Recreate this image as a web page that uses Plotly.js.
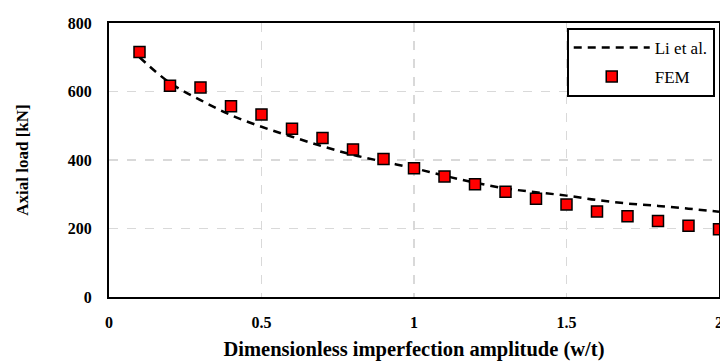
<!DOCTYPE html>
<html><head><meta charset="utf-8">
<script src="https://cdn.plot.ly/plotly-3.0.1.min.js"></script>
<style>html,body{margin:0;padding:0;background:#fff}#chart{width:720px;height:361px}</style>
</head><body><div id="chart"></div>
<script>
const xLi = [0.1,0.2,0.3,0.4,0.5,0.6,0.7,0.8,0.9,1.0,1.1,1.2,1.3,1.4,1.5,1.6,1.7,1.8,1.9,2.0];
const yLi = [700,625,575,531,497,468,440,415,395,376,354,334,317,306,296,283,273,266,258,249];
const xFem = [0.1,0.2,0.3,0.4,0.5,0.6,0.7,0.8,0.9,1.0,1.1,1.2,1.3,1.4,1.5,1.6,1.7,1.8,1.9,2.0];
const yFem = [715,617,612,557,533,491,464,431,403,376,352,329,307,287,270,250,236,222,208,198];
const xTicks = [0,0.5,1,1.5,2];
const xTickText = ['0','0.5','1','1.5','2'];
const yTicks = [0,200,400,600,800];

const font = 'Liberation Serif';
const traces = [
  {x:xLi, y:yLi, name:'Li et al.', legendgroup:'a', mode:'lines', line:{color:'#000', width:2.5, dash:'8px,6px', shape:'spline'}},
  {x:xFem, y:yFem, name:'FEM', legendgroup:'b', mode:'markers', marker:{symbol:'square', size:11, color:'#ff0000', line:{color:'#000', width:1.5}}}
];
const layout = {
  width:720, height:361,
  margin:{l:109, r:1, t:23, b:64},
  paper_bgcolor:'#fff', plot_bgcolor:'#fff',
  font:{family:font, color:'#000'},
  showlegend:true,
  legend:{x:0.993, xanchor:'right', y:0.982, yanchor:'top', bgcolor:'#fff', bordercolor:'#000', borderwidth:2,
    font:{family:font, size:17, color:'#000'}, itemwidth:76, tracegroupgap:4},
  xaxis:{range:[0,2], tickvals:xTicks, ticktext:xTickText, showline:true, linecolor:'#000', linewidth:2, mirror:true,
    showgrid:true, gridcolor:'#d9d9d9', griddash:'dash', gridwidth:1.5, zeroline:false, ticks:'',
    ticklabeloverflow:'allow',
    tickfont:{family:font, size:16, weight:'bold', color:'#000'}, ticklabelstandoff:10,
    title:{text:'<b>Dimensionless imperfection amplitude (w/t)</b>', font:{family:font, size:20.5, color:'#000'}, standoff:12}},
  yaxis:{range:[0,800], tickvals:yTicks, showline:true, linecolor:'#000', linewidth:2, mirror:true,
    showgrid:true, gridcolor:'#d9d9d9', griddash:'dash', gridwidth:1.5, zeroline:false, ticks:'',
    tickfont:{family:font, size:16, weight:'bold', color:'#000'}, ticklabelstandoff:12,
    title:{text:'<b>Axial load [kN]</b>', font:{family:font, size:17, color:'#000'}, standoff:35}}
};
Plotly.newPlot('chart', traces, layout, {displayModeBar:false, staticPlot:true});
</script></body></html>
